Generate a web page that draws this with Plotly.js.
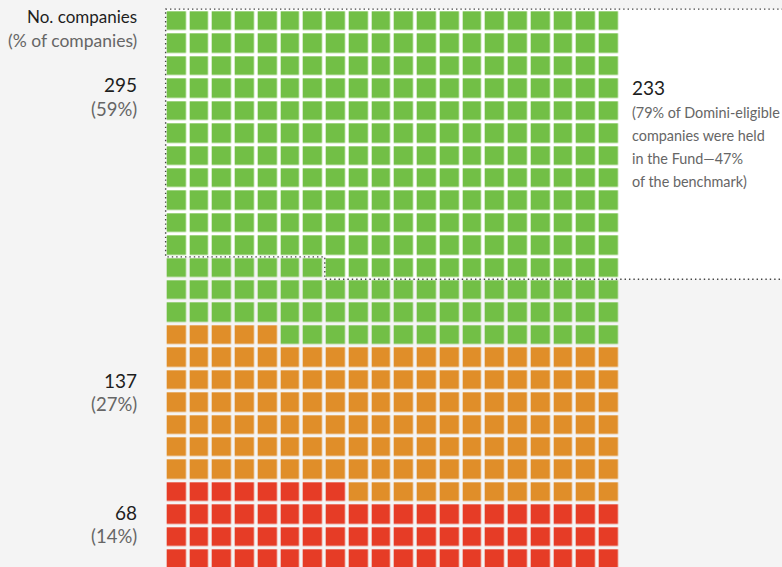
<!DOCTYPE html>
<html>
<head>
<meta charset="utf-8">
<script src="https://cdn.plot.ly/plotly-3.0.1.min.js"></script>
<style>
  html, body { margin: 0; padding: 0; background: #f4f4f4; }
  #chart { width: 782px; height: 567px; }
</style>
</head>
<body>
<div id="chart"></div>
<script>
// ---- data ----
const categories = ['Green', 'Orange', 'Red'];
const counts = [295, 137, 68];
const percentLabels = ['(59%)', '(27%)', '(14%)'];
const categoryColors = ['#72bf46', '#e08e29', '#e63c26'];
const heldCount = 233;
const heldNote = ['(79% of Domini-eligible', 'companies were held', 'in the Fund\u201447%', 'of the benchmark)'];
const headerLabels = ['No. companies', '(% of companies)'];
const nCols = 20;
const nRows = 25;

// ---- build waffle grid (filled from bottom-left, red first) ----
const z = [];
for (let r = 0; r < nRows; r++) { z.push(new Array(nCols).fill(null)); }
let idx = 0;
for (let c = categories.length - 1; c >= 0; c--) {
  for (let k = 0; k < counts[c]; k++) {
    const row = nRows - 1 - Math.floor(idx / nCols);
    const col = idx % nCols;
    z[row][col] = c;
    idx++;
  }
}
const xs = Array.from({length: nCols}, (_, i) => i);
const ys = Array.from({length: nRows}, (_, i) => i);

const trace = {
  type: 'heatmap',
  x: xs, y: ys, z: z,
  zmin: 0, zmax: 2,
  colorscale: [[0, categoryColors[0]], [0.25, categoryColors[0]], [0.25, categoryColors[1]], [0.75, categoryColors[1]], [0.75, categoryColors[2]], [1, categoryColors[2]]],
  showscale: false,
  xgap: 3.7, ygap: 3.4,
  hoverinfo: 'skip'
};

// ---- highlight box around the top `heldCount` cells ----
const fullRows = Math.floor(heldCount / nCols);
const rem = heldCount % nCols;
const stepCol = nCols - rem - 0.5;
const farX = 40;
const boxPath = `M ${farX},-0.55 L -0.5,-0.55 L -0.5,${fullRows - 0.5} L ${stepCol},${fullRows - 0.5} L ${stepCol},${fullRows + 0.5} L ${farX},${fullRows + 0.5}`;

const font = 'Lato, "Open Sans", sans-serif';
const dark = '#1e1e1e';
const grey = '#666666';

const annotations = [];
function addText(text, x, y, size, color, xanchor) {
  annotations.push({text: text, x: x, y: y, xref: 'paper', yref: 'paper',
    xanchor: xanchor, yanchor: 'middle', showarrow: false,
    font: {family: font, size: size, color: color}});
}
// pixel -> paper helpers
const W = 782, H = 567;
const px = v => v / W;
const py = v => 1 - v / H;

addText(headerLabels[0], px(139), py(17), 17, dark, 'right');
addText(headerLabels[1], px(139), py(41), 17.5, grey, 'right');
const labelY = [85, 380, 512];
for (let c = 0; c < categories.length; c++) {
  addText(String(counts[c]), px(139), py(labelY[c]), 19, dark, 'right');
  addText(percentLabels[c], px(139), py(labelY[c] + 24), 18.5, grey, 'right');
}
addText(String(heldCount), px(630), py(87), 19, dark, 'left');
heldNote.forEach((line, i) => addText(line, px(630), py(112 + i * 23.3), 14.4, grey, 'left'));

const layout = {
  width: W, height: H,
  margin: {l: 0, r: 0, t: 0, b: 0, pad: 0},
  paper_bgcolor: '#f4f4f4',
  plot_bgcolor: '#f4f4f4',
  showlegend: false,
  xaxis: {range: [-7.785, 26.605], visible: false, fixedrange: true},
  yaxis: {range: [24.334, -0.959], visible: false, fixedrange: true},
  shapes: [{
    type: 'path', path: boxPath, xref: 'x', yref: 'y', layer: 'below',
    fillcolor: '#ffffff',
    line: {color: '#444444', width: 1.4, dash: '1.4px,3px'}
  }],
  annotations: annotations
};

Plotly.newPlot('chart', [trace], layout, {displayModeBar: false, staticPlot: true});
</script>
</body>
</html>
